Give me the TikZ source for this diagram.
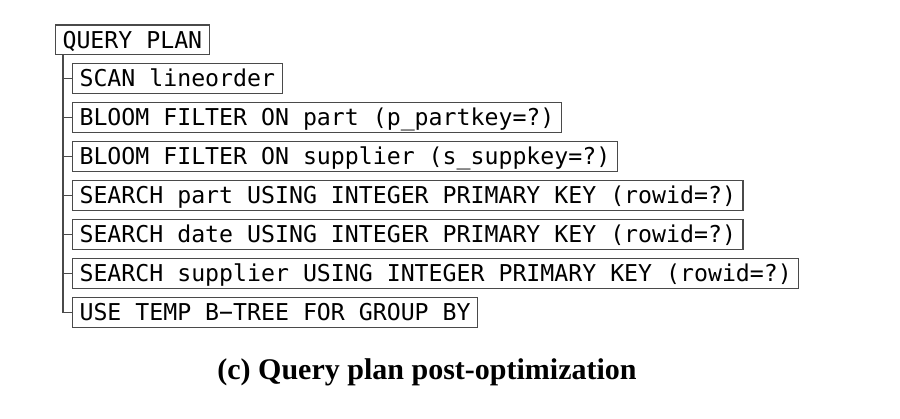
\documentclass[tikz,border=0pt]{standalone}
\usepackage{fontspec}
\setmonofont{DejaVu Sans Mono}
\newfontfamily\capfont{Liberation Serif}
\definecolor{boxgray}{HTML}{4A4A4A}
\begin{document}
\begin{tikzpicture}[x=1pt,y=-1pt,
  planbox/.style={draw=boxgray, line width=1.1pt, font=\fontsize{23.2}{27}\ttfamily,
    text height=16.5pt, text depth=0pt, inner ysep=6.7pt, inner xsep=7pt,
    anchor=west, text=black},
  treeline/.style={draw=boxgray, line width=1.1pt}]
\useasboundingbox (0,0) rectangle (900,419);
\node[planbox] (root) at (55,40) {QUERY PLAN};
\node[planbox] (c1) at (72,78.5) {SCAN lineorder};
\node[planbox] (c2) at (72,117.5) {BLOOM FILTER ON part (p\_partkey=?)};
\node[planbox] (c3) at (72,156.5) {BLOOM FILTER ON supplier (s\_suppkey=?)};
\node[planbox] (c4) at (72,195.5) {SEARCH part USING INTEGER PRIMARY KEY (rowid=?)};
\node[planbox] (c5) at (72,234.5) {SEARCH date USING INTEGER PRIMARY KEY (rowid=?)};
\node[planbox] (c6) at (72,273.5) {SEARCH supplier USING INTEGER PRIMARY KEY (rowid=?)};
\node[planbox] (c7) at (72,312.5) {USE TEMP B\symbol{"2212}TREE FOR GROUP BY};
\coordinate (trunk) at (63,0);
\draw[treeline] (trunk |- root.south) -- (trunk |- c7.west) -- (c7.west);
\foreach \c in {c1,c2,c3,c4,c5,c6}{
  \draw[treeline] (trunk |- \c.west) -- (\c.west);
}
\node[font=\capfont\bfseries\fontsize{30}{34}\selectfont, anchor=base] (cap) at (427,380) {(c) Query plan post-optimization};
\end{tikzpicture}
\end{document}
